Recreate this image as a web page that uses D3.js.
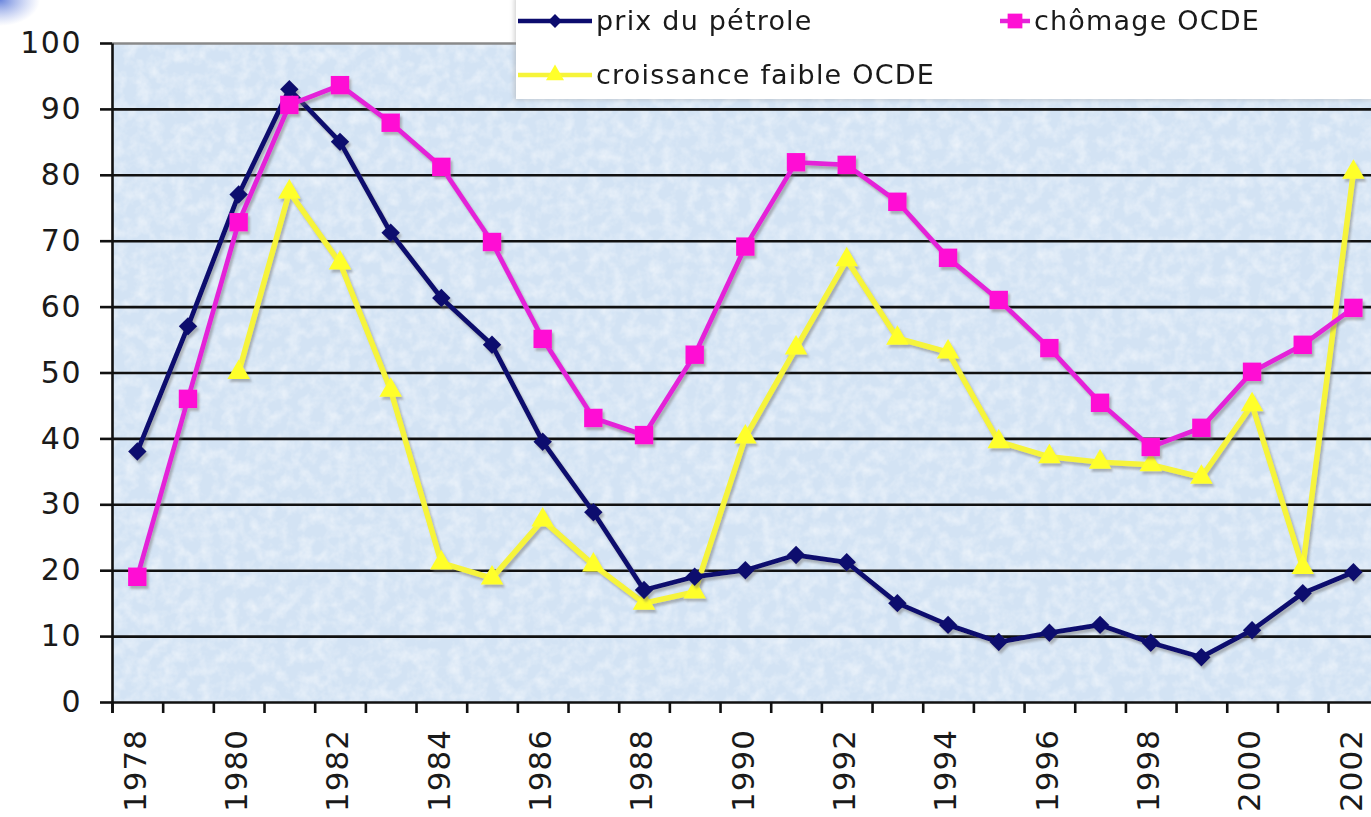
<!DOCTYPE html>
<html>
<head>
<meta charset="utf-8">
<script src="https://cdn.jsdelivr.net/npm/d3@7/dist/d3.min.js"></script>
<style>
body{margin:0;background:#fff;overflow:hidden}
svg{display:block}
text{font-family:"DejaVu Sans",Verdana,sans-serif;fill:#1a1a1a}
</style>
</head>
<body>
<svg id="chart" width="1371" height="817"></svg>
<script>
// data
let years=[1978,1979,1980,1981,1982,1983,1984,1985,1986,1987,1988,1989,1990,
  1991,1992,1993,1994,1995,1996,1997,1998,1999,2000,2001,2002]
let yearLabels=[1978,1980,1982,1984,1986,1988,1990,1992,1994,1996,1998,2000,2002]
let prixPetrole=[38,57,77,93,85,71.2,61.3,54.2,39.5,28.8,17,19,20,22.3,21.2,15,11.7,9.1,10.5,11.7,9,6.8,10.9,16.5,19.7]
let chomageOCDE=[19,46,72.8,90.6,93.6,87.9,81.2,69.8,55.1,43.1,40.5,52.7,69.1,81.9,81.5,75.9,67.4,61,53.7,45.4,38.7,41.6,50.1,54.2,59.8]
let croissanceFaible=[null,null,50,77.4,66.6,47.3,21.1,18.8,27.6,20.8,15,16.7,40.2,53.7,67.1,55.2,53.1,39.5,37.2,36.4,36,34.1,45.1,20.4,80.4]
let yTicks=[0,10,20,30,40,50,60,70,80,90,100]
let seriesNames=['prix du pétrole','chômage OCDE','croissance faible OCDE']

let svg=d3.select('#chart')
let plotLeft=112, plotTop=43, plotBottom=702, band=50.67
let plotRight=plotLeft+band*years.length

let x=d3.scaleBand().domain(years).range([plotLeft,plotRight])
let xEdge=d3.scaleLinear().domain([0,years.length]).range([plotLeft,plotRight])
let y=d3.scaleLinear().domain([0,100]).range([plotBottom,plotTop])

let defs=svg.append('defs')
let glow=defs.append('radialGradient').attr('id','corner')
glow.append('stop').attr('offset','0%').attr('stop-color','#5a78d8').attr('stop-opacity',0.9)
glow.append('stop').attr('offset','100%').attr('stop-color','#8aa0e8').attr('stop-opacity',0)

// mottled texture of the plot area
let tex=defs.append('filter').attr('id','tex').attr('x',0).attr('y',0).attr('width','100%').attr('height','100%')
tex.append('feTurbulence').attr('type','fractalNoise').attr('baseFrequency','0.08').attr('numOctaves',3).attr('seed',4).attr('result','n')
tex.append('feColorMatrix').attr('in','n').attr('type','matrix')
  .attr('values','0 0 0 0 1  0 0 0 0 1  0 0 0 0 1  1.6 0 0 0 -0.6')

let shadow=defs.append('filter').attr('id','shadow').attr('x','-10%').attr('y','-10%').attr('width','120%').attr('height','120%')
shadow.append('feDropShadow').attr('dx',2).attr('dy',3).attr('stdDeviation',1.2)
  .attr('flood-color','#6a6a6a').attr('flood-opacity',0.45)

let boxShadow=defs.append('filter').attr('id','boxshadow').attr('x','-5%').attr('y','-5%').attr('width','110%').attr('height','120%')
boxShadow.append('feDropShadow').attr('dx',-2).attr('dy',1).attr('stdDeviation',2)
  .attr('flood-color','#999').attr('flood-opacity',0.4)

svg.append('ellipse').attr('cx',0).attr('cy',0).attr('rx',40).attr('ry',26).attr('fill','url(#corner)')

svg.append('rect').attr('x',plotLeft).attr('y',plotTop).attr('width',plotRight-plotLeft).attr('height',plotBottom-plotTop)
  .attr('fill','#d3e3f4')
svg.append('rect').attr('x',plotLeft).attr('y',plotTop).attr('width',plotRight-plotLeft).attr('height',plotBottom-plotTop)
  .attr('fill','#fff').attr('filter','url(#tex)').attr('opacity',0.6)

// grid lines
svg.append('g').attr('transform','translate('+plotLeft+',0)')
  .call(d3.axisLeft(y).tickValues(yTicks.slice(1)).tickSize(-(plotRight-plotLeft)).tickFormat(''))
  .call(g=>g.select('.domain').remove())
  .call(g=>g.selectAll('line').attr('stroke','#111').attr('stroke-width',2.6))
  .call(g=>g.selectAll('.tick').filter(d=>d==100).select('line').attr('stroke','#8a8a8a'))

// y axis
svg.append('g').attr('transform','translate('+plotLeft+',0)')
  .call(d3.axisLeft(y).tickValues(yTicks).tickSizeInner(12).tickSizeOuter(0).tickPadding(18))
  .call(g=>g.select('.domain').attr('stroke','#111').attr('stroke-width',2.6))
  .call(g=>g.selectAll('line').attr('stroke','#111').attr('stroke-width',2.6))
  .call(g=>g.selectAll('text').attr('font-size',30).attr('letter-spacing',1.5).style('font-family','"DejaVu Sans",Verdana,sans-serif').attr('fill','#1a1a1a'))

// x axis: ticks on band edges
svg.append('g').attr('transform','translate(0,'+plotBottom+')')
  .call(d3.axisBottom(xEdge).tickValues(d3.range(0,years.length+1)).tickSize(11).tickFormat(''))
  .call(g=>g.select('.domain').attr('stroke','#111').attr('stroke-width',2.6))
  .call(g=>g.selectAll('line').attr('stroke','#111').attr('stroke-width',2.6))

svg.append('g').attr('transform','translate(0,'+plotBottom+')')
  .call(d3.axisBottom(x).tickValues(yearLabels).tickSize(0).tickPadding(0))
  .call(g=>g.select('.domain').remove())
  .call(g=>g.selectAll('text')
    .attr('font-size',31).attr('letter-spacing',1).style('font-family','"DejaVu Sans",Verdana,sans-serif')
    .attr('fill','#1a1a1a')
    .attr('text-anchor','end').attr('transform','rotate(-90)')
    .attr('x',-27).attr('y',-3).attr('dy','0.36em'))

let series=[
  {name:seriesNames[0],values:prixPetrole,stroke:'#0c0c6e',fill:'#0c0c6e',shape:'diamond',w:4.8},
  {name:seriesNames[1],values:chomageOCDE,stroke:'#e424d8',fill:'#ff10d4',shape:'square',w:4.8},
  {name:seriesNames[2],values:croissanceFaible,stroke:'#f6f43a',fill:'#ffff2a',shape:'triangle',w:5.5}
]
let symbolFor=s=>{
  if(s=='diamond') return d3.symbol(d3.symbolSquare,170)()
  if(s=='square') return d3.symbol(d3.symbolSquare,340)()
  return d3.symbol(d3.symbolTriangle,220)()
}
let line=d3.line().defined(d=>d.v!=null).x(d=>x(d.yr)+x.bandwidth()/2).y(d=>y(d.v))

let plot=svg.append('g')
let drawOrder=[2,0,1]
drawOrder.forEach(i=>{
  let s=series[i]
  let pts=years.map((yr,k)=>({yr:yr,v:s.values[k]}))
  let g=plot.append('g').attr('filter','url(#shadow)')
  g.append('path').datum(pts).attr('d',line).attr('fill','none')
    .attr('stroke',s.stroke).attr('stroke-width',s.w).attr('stroke-linejoin','round')
  g.selectAll('path.m').data(pts.filter(d=>d.v!=null)).enter().append('path').attr('class','m')
    .attr('d',symbolFor(s.shape))
    .attr('transform',d=>'translate('+(x(d.yr)+x.bandwidth()/2)+','+y(d.v)+')'+(s.shape=='diamond'?' rotate(45)':''))
    .attr('fill',s.fill)
})

// legend
let lg=svg.append('g')
lg.append('rect').attr('x',516).attr('y',-4).attr('width',900).attr('height',103).attr('fill','#fff').attr('filter','url(#boxshadow)')
let legendPos=[[518,21,74],[1000,21,30],[518,75,74]]
series.forEach((s,i)=>{
  let p=legendPos[i]
  let it=lg.append('g')
  it.append('line').attr('x1',p[0]).attr('x2',p[0]+p[2]).attr('y1',p[1]).attr('y2',p[1])
    .attr('stroke',s.stroke).attr('stroke-width',4.5)
  it.append('path').attr('d',symbolFor(s.shape))
    .attr('transform','translate('+(p[0]+p[2]/2)+','+p[1]+')'+(s.shape=='diamond'?' rotate(45) scale(0.75)':' scale(0.8)'))
    .attr('fill',s.fill)
  it.append('text').attr('x',p[0]+p[2]+4).attr('y',p[1]).attr('dy','0.35em')
    .attr('font-size',27).attr('letter-spacing',1.2).text(s.name)
})
</script>
</body>
</html>
